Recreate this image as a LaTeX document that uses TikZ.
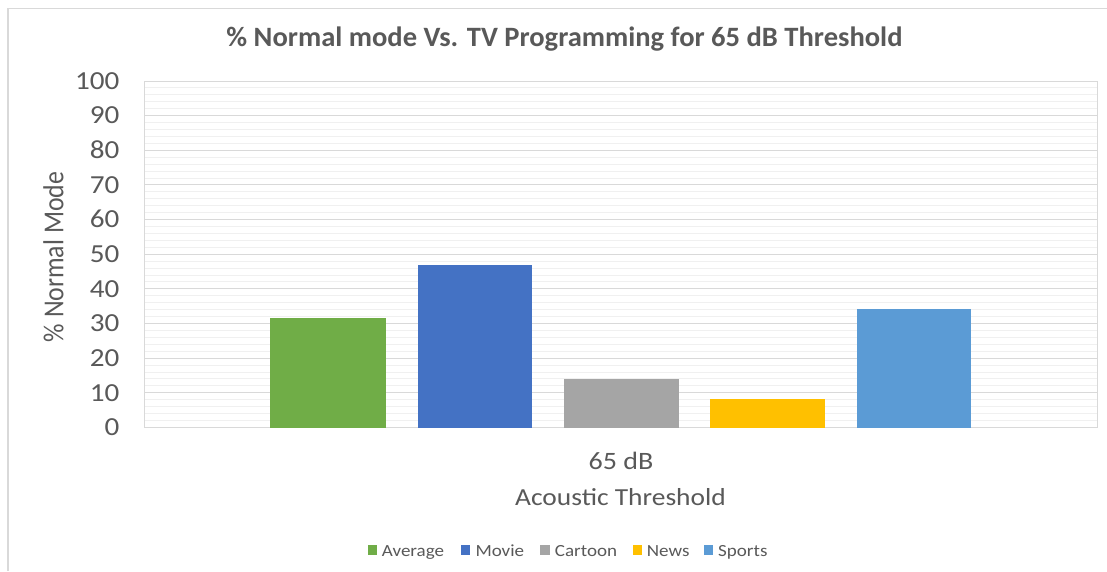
\documentclass[tikz,border=0pt]{standalone}
\usepackage{fontspec}
\setmainfont[FakeStretch=1.12]{Carlito}
\newfontfamily\plainfont{Carlito}
\definecolor{txt}{HTML}{595959}
\definecolor{frm}{HTML}{D9D9D9}
\definecolor{majg}{HTML}{D9D9D9}
\definecolor{ming}{HTML}{F0F0F0}
\definecolor{cavg}{HTML}{70AD47}
\definecolor{cmov}{HTML}{4472C4}
\definecolor{ccar}{HTML}{A5A5A5}
\definecolor{cnew}{HTML}{FFC000}
\definecolor{cspo}{HTML}{5B9BD5}
\tikzset{
  framel/.style={draw=frm, line width=1.5pt},
  minorl/.style={draw=ming, line width=1pt},
  majorl/.style={draw=majg, line width=1pt},
  ticklab/.style={anchor=base east, inner sep=0pt, text=txt, font=\fontsize{26}{30}\selectfont},
  legtxt/.style={anchor=base west, inner sep=0pt, text=txt, font=\fontsize{17}{20}\selectfont},
  legsq/.style={minimum width=9.5pt, minimum height=10pt, inner sep=0pt, anchor=north west},
}
\begin{document}
\begin{tikzpicture}[x=1pt,y=-1pt]
\useasboundingbox (0,0) rectangle (1107,571);
\fill[white] (0,0) rectangle (1107,571);
\coordinate (fbl) at (8,571);
\coordinate (ftl) at (8,8.5);
\coordinate (ftr) at (1107,8.5);
\draw[framel] (fbl) -- (ftl) -- (ftr);
% grid
\foreach \v in {2,4,...,98} {
  \draw[minorl] (144.5,{427.5-3.465*\v}) -- (1097,{427.5-3.465*\v});
}
\foreach \v in {10,20,...,100} {
  \draw[majorl] (144.5,{427.5-3.465*\v}) -- (1097,{427.5-3.465*\v});
}
\draw[majorl] (144.5,81) -- (144.5,427.5);
\draw[majorl] (1097,81) -- (1097,427.5);
\draw[majorl] (144.5,427.5) -- (1097,427.5);
% bars
\fill[cavg] (270.3,{427.5-3.465*31.6}) rectangle (386,427.5);
\fill[cmov] (417.7,{427.5-3.465*46.8}) rectangle (532.3,427.5);
\fill[ccar] (564,{427.5-3.465*13.9}) rectangle (679,427.5);
\fill[cnew] (710.3,{427.5-3.465*8.2}) rectangle (825.3,427.5);
\fill[cspo] (856.7,{427.5-3.465*34.1}) rectangle (971.3,427.5);
% tick labels
\foreach \v in {0,10,...,100} {
  \node[ticklab] (t\v) at (119.5,{427.5-3.465*\v+8.3}) {\v};
}
% title
\node[anchor=base, inner sep=0pt, text=txt] (title) at (564.5,46.7) {\scalebox{1.02}[1]{\plainfont\bfseries\fontsize{28}{30}\selectfont \% Normal mode Vs. TV Programming for 65 dB Threshold}};
% axis labels
\node[anchor=base, inner sep=0pt, text=txt, font=\fontsize{25}{28}\selectfont] (cat) at (621,469.3) {65 dB};
\node[anchor=base, inner sep=0pt, text=txt, font=\fontsize{24.5}{28}\selectfont] (xlab) at (620.5,505.7) {Acoustic Threshold};
\node[anchor=base, inner sep=0pt, rotate=90, text=txt] (ylab) at (63.3,257) {\scalebox{1}[1.12]{\plainfont\fontsize{25.8}{28}\selectfont \% Normal Mode}};
% legend
\node[legsq, fill=cavg] (s1) at (367.3,545) {};
\node[legtxt] (l1) at (381.7,556) {Average};
\node[legsq, fill=cmov] (s2) at (460.7,545) {};
\node[legtxt] (l2) at (475.3,556) {Movie};
\node[legsq, fill=ccar] (s3) at (540,545) {};
\node[legtxt] (l3) at (554.7,556) {Cartoon};
\node[legsq, fill=cnew] (s4) at (632.7,545) {};
\node[legtxt] (l4) at (646.7,556) {News};
\node[legsq, fill=cspo] (s5) at (703.3,545) {};
\node[legtxt] (l5) at (718,556) {Sports};
\end{tikzpicture}
\end{document}
